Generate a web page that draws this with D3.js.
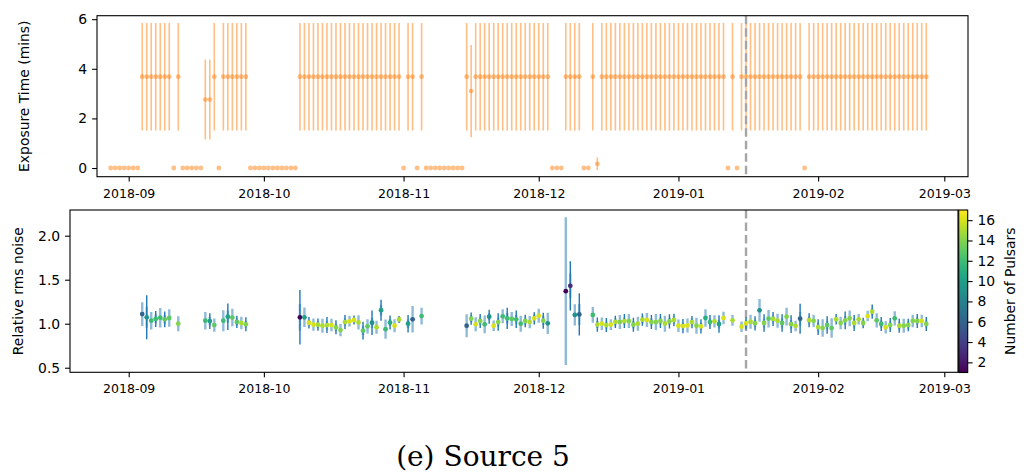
<!DOCTYPE html>
<html><head><meta charset="utf-8">
<script src="https://cdn.jsdelivr.net/npm/d3@7"></script>
<style>body{margin:0;background:#fff}svg{display:block}</style>
</head><body>
<svg id="c" width="1025" height="474"></svg>
<script>
// ---------- data ----------
const baseDate = "2018-09-01";          // day 0 of the day numbers below
const markerDay = 137;                   // dashed vertical line (2019-01-16)
const monthTicks = ["2018-09","2018-10","2018-11","2018-12","2019-01","2019-02","2019-03"];
const expTicks = [0, 2, 4, 6];
const noiseTicks = [0.5, 1.0, 1.5, 2.0];
const pulsarTicks = [2, 4, 6, 8, 10, 12, 14, 16];
const pulsarRange = [1, 17];

// top panel: exposure time per day
const expDays = [
  -4,-3,-2,-1,0,1,2, 3,4,5,6,7,8,9, 10, 11, 12,13,14,15,16, 17,18, 19, 20, 21,22,23,24,25,26,
  27,28,29,30,31,32,33,34,35,36,37,
  38,39,40,41,42,43,44,45,46,47,48,49,50,51,52,53,54,55,56,57,58,59,60, 61, 62,63, 64, 65,
  66,67,68,69,70,71,72,73,74, 75, 76,
  77,78,79,80,81,82,83,84,85,86,87,88,89,90,91,92,93, 94,95,96, 97,98,99,100, 101,102, 103, 104,
  105,106,107,108,109,110,111,112,113,114,115,116,117,118,119,120,121,122,123,124,125,126,127,128,129,130,131,132,
  133, 134, 135, 136,137,138,139,140,141,142,143,144,145,146,147,148,149, 150,
  151,152,153,154,155,156,157,158,159,160,161,162,163,164,165,166,167,168,169,170,171,172,173,174,175,176,177
];
const expMins = [
  0,0,0,0,0,0,0, 3.68,3.68,3.68,3.68,3.68,3.68,3.68, 0, 3.68, 0,0,0,0,0, 2.76,2.76, 3.68, 0, 3.68,3.68,3.68,3.68,3.68,3.68,
  0,0,0,0,0,0,0,0,0,0,0,
  3.68,3.68,3.68,3.68,3.68,3.68,3.68,3.68,3.68,3.68,3.68,3.68,3.68,3.68,3.68,3.68,3.68,3.68,3.68,3.68,3.68,3.68,3.68, 0, 3.68,3.68, 0, 3.68,
  0,0,0,0,0,0,0,0,0, 3.68, 3.10,
  3.68,3.68,3.68,3.68,3.68,3.68,3.68,3.68,3.68,3.68,3.68,3.68,3.68,3.68,3.68,3.68,3.68, 0,0,0, 3.68,3.68,3.68,3.68, 0,0, 3.68, 0.17,
  3.68,3.68,3.68,3.68,3.68,3.68,3.68,3.68,3.68,3.68,3.68,3.68,3.68,3.68,3.68,3.68,3.68,3.68,3.68,3.68,3.68,3.68,3.68,3.68,3.68,3.68,3.68,3.68,
  0, 3.68, 0, 3.68,3.68,3.68,3.68,3.68,3.68,3.68,3.68,3.68,3.68,3.68,3.68,3.68,3.68, 0,
  3.68,3.68,3.68,3.68,3.68,3.68,3.68,3.68,3.68,3.68,3.68,3.68,3.68,3.68,3.68,3.68,3.68,3.68,3.68,3.68,3.68,3.68,3.68,3.68,3.68,3.68,3.68
];
const expErr = [
  0,0,0,0,0,0,0, 2.17,2.17,2.17,2.17,2.17,2.17,2.17, 0, 2.17, 0,0,0,0,0, 1.61,1.61, 2.17, 0, 2.17,2.17,2.17,2.17,2.17,2.17,
  0,0,0,0,0,0,0,0,0,0,0,
  2.17,2.17,2.17,2.17,2.17,2.17,2.17,2.17,2.17,2.17,2.17,2.17,2.17,2.17,2.17,2.17,2.17,2.17,2.17,2.17,2.17,2.17,2.17, 0, 2.17,2.17, 0, 2.17,
  0,0,0,0,0,0,0,0,0, 2.17, 1.86,
  2.17,2.17,2.17,2.17,2.17,2.17,2.17,2.17,2.17,2.17,2.17,2.17,2.17,2.17,2.17,2.17,2.17, 0,0,0, 2.17,2.17,2.17,2.17, 0,0, 2.17, 0.25,
  2.17,2.17,2.17,2.17,2.17,2.17,2.17,2.17,2.17,2.17,2.17,2.17,2.17,2.17,2.17,2.17,2.17,2.17,2.17,2.17,2.17,2.17,2.17,2.17,2.17,2.17,2.17,2.17,
  0, 2.17, 0, 2.17,2.17,2.17,2.17,2.17,2.17,2.17,2.17,2.17,2.17,2.17,2.17,2.17,2.17, 0,
  2.17,2.17,2.17,2.17,2.17,2.17,2.17,2.17,2.17,2.17,2.17,2.17,2.17,2.17,2.17,2.17,2.17,2.17,2.17,2.17,2.17,2.17,2.17,2.17,2.17,2.17,2.17
];

// bottom panel: relative rms noise per observation
const noiseDays = [
  3,4,5,6,7,8,9, 11, 17,18,19, 21,22,23,24,25,26,
  38,39,40,41,42,43,44,45,46,47,48,49,50,51,52,53,54,55,56,57,58,59,60, 62,63,65,
  75,76,77,78,79,80,81,82,83,84,85,86,87,88,89,90,91,92,93, 97,98,99,100,
  103,104,105,106,107,108,109,110,111,112,113,114,115,116,117,118,119,120,121,122,123,124,125,126,127,128,129,130,131,132,
  134,136, 137,138,139,140,141,142,143,144,145,146,147,148,149,
  151,152,153,154,155,156,157,158,159,160,161,162,163,164,165,166,167,168,169,170,171,172,173,174,175,176,177
];
const noise = [
  1.11,1.073,1.034,1.054,1.068,1.05,1.065, 1.0, 1.034,1.03,0.985, 1.034,1.08,1.07,1.02,1.008,0.993,
  1.073,1.073,1.011,0.989,0.989,0.977,0.985,0.985,0.959,0.928,1.019,1.027,1.042,1.015,0.921,0.97,1.011,0.96,1.153,0.938,1.013,0.977,1.048, 1.0,1.05,1.087,
  0.977,1.057,0.993,1.031,0.993,1.08,0.977,1.019,1.084,1.061,1.054,1.05,1.0,1.031,1.019,1.061,1.091,1.034,1.004, 1.37,1.43,1.10,1.105,
  1.10,0.99,1.0,0.985,0.99,1.02,1.02,1.03,1.03,0.989,1.0,1.046,1.042,1.019,1.019,1.031,1.0,1.027,1.042,0.977,0.973,0.98,1.019,0.977,0.97,1.065,1.019,1.027,0.996,1.065,
  1.038,0.966, 1.004,1.023,1.004,1.152,1.008,1.057,1.054,1.034,1.008,1.08,0.995,0.975,1.057,
  1.04,1.033,0.962,0.951,0.985,0.951,1.05,1.008,1.038,1.061,1.008,1.05,1.008,1.087,1.137,1.038,0.997,0.959,0.985,1.061,0.977,0.977,0.985,1.031,1.031,1.031,0.997
];
const noiseErrLight = [
  .135,.12,.10,.05,.11,.05,.10, .085, .10,.05,.075, .12,.07,.10,.04,.07,.04,
  .15,.11,.035,.07,.04,.08,.05,.07,.04,.07,.04,.06,.03,.08,.05,.08,.06,.075,.06,.11,.04,.075,.03, .05,.15,.095,
  .13,.04,.08,.04,.10,.04,.06,.05,.08,.06,.08,.05,.09,.04,.07,.04,.08,.05,.12, .84,.14,.12,.12,
  .09,.04,.07,.04,.06,.04,.08,.04,.08,.04,.08,.04,.08,.04,.09,.04,.09,.04,.04,.07,.04,.08,.04,.09,.04,.10,.04,.07,.05,.07,
  .06,.06, .04,.08,.04,.13,.05,.10,.04,.08,.05,.10,.05,.06,.08,
  .04,.07,.05,.10,.05,.11,.03,.07,.05,.09,.05,.06,.03,.06,.04,.08,.04,.07,.04,.08,.04,.08,.04,.07,.04,.07,.04
];
const noiseErrDark = [
  0,.25,0,.09,0,.09,0, 0, 0,.09,0, 0,.15,0,.07,0,.08,
  .31,0,.065,0,.07,0,.09,0,.08,0,.08,0,.05,0,.10,0,.14,0,.12,0,.08,0,.04, .10,0,0,
  0,.07,0,.08,0,.08,0,.10,0,.12,0,.10,0,.07,0,.07,0,.09,0, 0,.28,0,.24,
  0,.08,0,.08,0,.07,0,.08,0,.08,0,.07,0,.08,0,.08,0,.08,.07,0,.08,0,.07,0,.08,0,.08,0,.10,0,
  0,0, .07,0,.08,0,.10,0,.08,0,.10,0,.10,0,.17,
  .08,0,.09,0,.10,0,.06,0,.10,0,.09,0,.06,0,.08,0,.08,0,.08,0,.08,0,.07,0,.08,0,.08
];
const nPulsars = [
  6,9,12,12,12,13,13, 14, 12,10,13, 12,10,13,13,15,14,
  1,10,16,16,15,15,15,16,14,14,15,16,16,15,13,13,9,15,10,12,11,16,15, 10,6,12,
  6,14,16,14,12,9,16,14,12,12,13,12,12,14,15,16,16,14,9, 1,3,9,6,
  12,15,16,15,16,15,14,15,14,14,15,15,16,14,14,14,15,14,15,16,16,16,15,14,16,11,12,15,10,16,
  15,16, 16,15,14,9,14,13,15,15,13,14,14,15,6,
  15,14,15,14,13,13,15,14,14,14,15,15,14,16,15,13,12,16,14,12,15,14,14,14,14,16,14
];
const titleText = "(e) Source 5";

// ---------- drawing ----------
const svg = d3.select("#c");
const DAY = 864e5;
const parseM = d3.utcParse("%Y-%m");
const t0 = d3.utcParse("%Y-%m-%d")(baseDate).getTime();
const toDate = d => new Date(t0 + d * DAY);
const monthDates = monthTicks.map(parseM);
const FONT = "DejaVu Sans, sans-serif";

// shared time mapping (both panels share the date axis)
const xRef = d3.scaleUtc().domain([monthDates[0], monthDates[monthDates.length-1]]).range([128.7, 944.3]);
const panelX = (l, r) => d3.scaleUtc().domain([xRef.invert(l), xRef.invert(r)]).range([l, r]);

const P1 = {l: 97, r: 968, t: 15.7, b: 176.7};
const P2 = {l: 70, r: 958, t: 210, b: 372.3};
const x1 = panelX(P1.l, P1.r);
const x2 = panelX(P2.l, P2.r);
const y1 = d3.scaleLinear().domain([-0.35, 6.14]).range([P1.b, P1.t]);
const y2 = d3.scaleLinear().domain([0.448, 2.292]).range([P2.b, P2.t]);
const cScale = d3.scaleSequential(d3.interpolateViridis).domain(pulsarRange);

function xAxis(x, P) {
  const g = svg.append("g").attr("transform", `translate(0,${P.b})`)
    .call(d3.axisBottom(x).tickValues(monthDates).tickFormat(d3.utcFormat("%Y-%m")).tickSize(4.9).tickPadding(0));
  g.select(".domain").remove();
  g.selectAll(".tick line").attr("stroke", "#000").attr("stroke-width", 1.1);
  g.selectAll(".tick text").attr("y", 21).attr("dy", 0).attr("fill", "#000")
    .attr("font-family", FONT).attr("font-size", 12.5);
}
function yAxis(y, P, ticks, fmt) {
  const g = svg.append("g").attr("transform", `translate(${P.l},0)`)
    .call(d3.axisLeft(y).tickValues(ticks).tickFormat(fmt).tickSize(4.9).tickPadding(4.9));
  g.select(".domain").remove();
  g.selectAll(".tick line").attr("stroke", "#000").attr("stroke-width", 1.1);
  g.selectAll(".tick text").attr("fill", "#000").attr("font-family", FONT).attr("font-size", 13.9);
}
function markerLine(g, x, P) {
  g.append("line").attr("x1", x(toDate(markerDay))).attr("x2", x(toDate(markerDay)))
    .attr("y1", P.t).attr("y2", P.b).attr("stroke", "#a6a6a6")
    .attr("stroke-width", 2.4).attr("stroke-dasharray", "8.5,4");
}

// clip paths
const defs = svg.append("defs");
[["clip1", P1], ["clip2", P2]].forEach(([id, P]) => {
  defs.append("clipPath").attr("id", id).append("rect")
    .attr("x", P.l).attr("y", P.t).attr("width", P.r - P.l).attr("height", P.b - P.t);
});

// ----- top panel -----
const expData = expDays.map((d, i) => ({d, v: expMins[i], e: expErr[i]}));
const g1 = svg.append("g").attr("clip-path", "url(#clip1)");
g1.selectAll("line.eb").data(expData.filter(p => p.e > 0)).join("line")
  .attr("x1", p => x1(toDate(p.d))).attr("x2", p => x1(toDate(p.d)))
  .attr("y1", p => y1(p.v - p.e)).attr("y2", p => y1(p.v + p.e))
  .attr("stroke", "#ff7f0e").attr("stroke-opacity", 0.5).attr("stroke-width", 1.6);
g1.selectAll("circle").data(expData).join("circle")
  .attr("cx", p => x1(toDate(p.d))).attr("cy", p => y1(p.v)).attr("r", 2.4)
  .attr("fill", "#ff7f0e").attr("fill-opacity", 0.5);
markerLine(g1, x1, P1);
svg.append("rect").attr("x", P1.l).attr("y", P1.t).attr("width", P1.r - P1.l).attr("height", P1.b - P1.t)
  .attr("fill", "none").attr("stroke", "#000").attr("stroke-width", 1.1);
xAxis(x1, P1);
yAxis(y1, P1, expTicks, d3.format("d"));
svg.append("text").attr("transform", `translate(24,${(P1.t + P1.b) / 2}) rotate(-90)`)
  .attr("text-anchor", "middle").attr("dominant-baseline", "central")
  .attr("font-family", FONT).attr("font-size", 13.9).text("Exposure Time (mins)");

// ----- bottom panel -----
const nData = noiseDays.map((d, i) => ({d, v: noise[i], a: noiseErrLight[i], b: noiseErrDark[i], n: nPulsars[i]}));
const g2 = svg.append("g").attr("clip-path", "url(#clip2)");
markerLine(g2, x2, P2);
g2.selectAll("line.el").data(nData.filter(p => p.a > 0)).join("line").attr("class", "el")
  .attr("x1", p => x2(toDate(p.d))).attr("x2", p => x2(toDate(p.d)))
  .attr("y1", p => y2(p.v - p.a)).attr("y2", p => y2(p.v + p.a))
  .attr("stroke", "#1f77b4").attr("stroke-opacity", 0.5).attr("stroke-width", 2.4);
g2.selectAll("line.ed").data(nData.filter(p => p.b > 0)).join("line").attr("class", "ed")
  .attr("x1", p => x2(toDate(p.d))).attr("x2", p => x2(toDate(p.d)))
  .attr("y1", p => y2(p.v - p.b)).attr("y2", p => y2(p.v + p.b))
  .attr("stroke", "#1f77b4").attr("stroke-width", 1.4);
g2.selectAll("circle").data(nData).join("circle")
  .attr("cx", p => x2(toDate(p.d))).attr("cy", p => y2(p.v)).attr("r", 2.4)
  .attr("fill", p => cScale(p.n));
svg.append("rect").attr("x", P2.l).attr("y", P2.t).attr("width", P2.r - P2.l).attr("height", P2.b - P2.t)
  .attr("fill", "none").attr("stroke", "#000").attr("stroke-width", 1.1);
xAxis(x2, P2);
yAxis(y2, P2, noiseTicks, d3.format(".1f"));
svg.append("text").attr("transform", `translate(18,${(P2.t + P2.b) / 2}) rotate(-90)`)
  .attr("text-anchor", "middle").attr("dominant-baseline", "central")
  .attr("font-family", FONT).attr("font-size", 13.9).text("Relative rms noise");

// ----- colorbar -----
const CB = {l: 958.7, r: 967.7, t: 210, b: 372.5};
const cbY = d3.scaleLinear().domain(pulsarRange).range([CB.b, CB.t]);
const grad = defs.append("linearGradient").attr("id", "vir").attr("x1", 0).attr("y1", 1).attr("x2", 0).attr("y2", 0);
d3.range(0, 1.0001, 0.05).forEach(t => grad.append("stop").attr("offset", t).attr("stop-color", d3.interpolateViridis(t)));
svg.append("rect").attr("x", CB.l).attr("y", CB.t).attr("width", CB.r - CB.l).attr("height", CB.b - CB.t)
  .attr("fill", "url(#vir)").attr("stroke", "#000").attr("stroke-width", 1.1);
const gcb = svg.append("g").attr("transform", `translate(${CB.r},0)`)
  .call(d3.axisRight(cbY).tickValues(pulsarTicks).tickFormat(d3.format("d")).tickSize(4.9).tickPadding(4.9));
gcb.select(".domain").remove();
gcb.selectAll(".tick line").attr("stroke", "#000").attr("stroke-width", 1.1);
gcb.selectAll(".tick text").attr("fill", "#000").attr("font-family", FONT).attr("font-size", 13.9);
svg.append("text").attr("transform", `translate(1010,${(CB.t + CB.b) / 2}) rotate(-90)`)
  .attr("text-anchor", "middle").attr("dominant-baseline", "central")
  .attr("font-family", FONT).attr("font-size", 13.9).text("Number of Pulsars");

// ----- caption -----
svg.append("text").attr("x", 483).attr("y", 466).attr("text-anchor", "middle")
  .attr("font-family", "DejaVu Serif, serif").attr("font-size", 28).text(titleText);
</script>
</body></html>
